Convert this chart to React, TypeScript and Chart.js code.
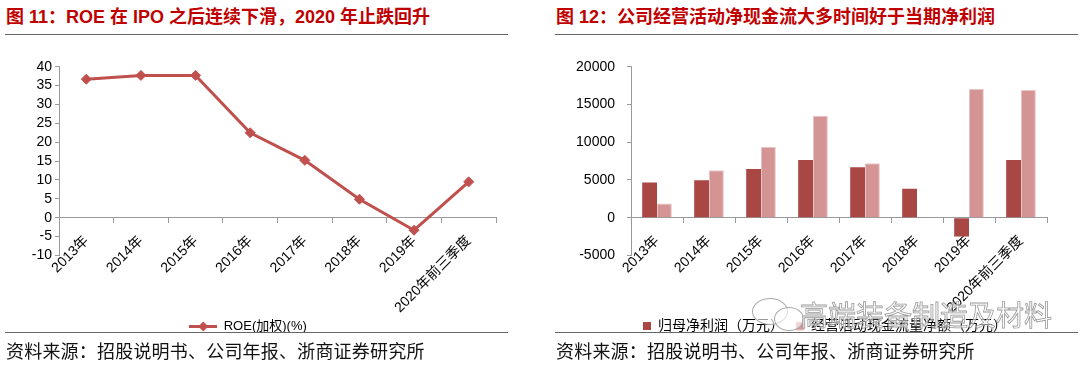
import React, { useEffect, useRef } from 'react';
import { Chart, registerables } from 'chart.js';

Chart.register(...registerables);

// ---------- data ----------
const categories = ['2013年', '2014年', '2015年', '2016年', '2017年', '2018年', '2019年', '2020年前三季度'];
const roeValues = [36.7, 37.7, 37.7, 22.5, 15.2, 4.9, -3.3, 9.5];
const netProfit = [4650, 4950, 6450, 7650, 6700, 3850, -2500, 7650];
const operatingCashFlow = [1900, 6300, 9400, 13500, 7200, 50, 17050, 16900];

const roeLabel = 'ROE(加权)(%)';
const netProfitLabel = '归母净利润（万元）';
const cashFlowLabel = '经营活动现金流量净额（万元）';

const leftTitle = '图 11：ROE 在 IPO 之后连续下滑，2020 年止跌回升';
const rightTitle = '图 12：公司经营活动净现金流大多时间好于当期净利润';
const sourceText = '资料来源：招股说明书、公司年报、浙商证券研究所';
const watermarkText = '高端装备制造及材料';

// ---------- styles ----------
const FONT_FAMILY = '"Liberation Sans", Arial, "Noto Sans CJK SC", sans-serif';
const RED_LINE = '#C0504D';
const DARK_BAR = '#A94745';
const LIGHT_BAR = '#D49494';
const AXIS_COLOR = '#9A9A9A';
const TITLE_RED = '#C00000';

function makeLegendIcon(): HTMLCanvasElement {
  const c = document.createElement('canvas');
  c.width = 28;
  c.height = 11;
  const ctx = c.getContext('2d')!;
  ctx.strokeStyle = RED_LINE;
  ctx.lineWidth = 3;
  ctx.beginPath();
  ctx.moveTo(0, 5.5);
  ctx.lineTo(28, 5.5);
  ctx.stroke();
  ctx.fillStyle = RED_LINE;
  ctx.beginPath();
  ctx.moveTo(14, 0.5);
  ctx.lineTo(19, 5.5);
  ctx.lineTo(14, 10.5);
  ctx.lineTo(9, 5.5);
  ctx.closePath();
  ctx.fill();
  return c;
}

function LeftChart() {
  const ref = useRef<HTMLCanvasElement | null>(null);
  useEffect(() => {
    if (!ref.current) return;
    const icon = makeLegendIcon();
    const chart = new Chart(ref.current, {
      type: 'line',
      data: {
        labels: categories,
        datasets: [
          {
            label: roeLabel,
            data: roeValues,
            borderColor: RED_LINE,
            backgroundColor: RED_LINE,
            borderWidth: 3,
            pointStyle: 'rectRot',
            pointRadius: 5,
            pointBorderWidth: 1,
            pointBackgroundColor: RED_LINE,
            pointBorderColor: RED_LINE,
            tension: 0,
          },
        ],
      },
      options: {
        responsive: false,
        animation: false,
        devicePixelRatio: 1,
        layout: { padding: { left: 0, right: 44, top: 26.7, bottom: 0 } },
        scales: {
          x: {
            type: 'category',
            offset: true,
            position: { y: 0 } as any,
            grid: { drawOnChartArea: false, offset: true, tickLength: 5, color: AXIS_COLOR },
            border: { color: AXIS_COLOR, width: 1 },
            ticks: {
              minRotation: 45,
              maxRotation: 45,
              autoSkip: false,
              padding: 10,
              color: '#000',
              font: { family: FONT_FAMILY, size: 14 },
            },
          },
          y: {
            min: -10,
            max: 40,
            ticks: {
              stepSize: 5,
              autoSkip: false,
              padding: 3,
              color: '#000',
              font: { family: FONT_FAMILY, size: 14 },
            },
            grid: { drawOnChartArea: false, tickLength: 4, color: AXIS_COLOR },
            border: { color: AXIS_COLOR, width: 1 },
            afterFit: (s: any) => {
              s.width = 59;
            },
          },
        },
        plugins: {
          tooltip: { enabled: false },
          legend: {
            position: 'bottom',
            title: { display: true, text: '', font: { size: 10 }, padding: { top: 46.5, bottom: 0 } },
            labels: {
              usePointStyle: true,
              pointStyleWidth: 28,
              padding: 6,
              color: '#000',
              font: { family: FONT_FAMILY, size: 13 },
              generateLabels: (c: any) =>
                (Chart.defaults.plugins.legend.labels.generateLabels as any)(c).map((l: any) => ({
                  ...l,
                  pointStyle: icon,
                })),
            },
          },
        },
      },
    });
    return () => chart.destroy();
  }, []);
  return (
    <canvas
      ref={ref}
      width={540}
      height={303}
      style={{ position: 'absolute', left: 0, top: 40, width: 540, height: 303 }}
    />
  );
}

function RightChart() {
  const ref = useRef<HTMLCanvasElement | null>(null);
  useEffect(() => {
    if (!ref.current) return;
    const chart = new Chart(ref.current, {
      type: 'bar',
      data: {
        labels: categories,
        datasets: [
          {
            label: netProfitLabel,
            data: netProfit,
            backgroundColor: DARK_BAR,
            borderColor: DARK_BAR,
            borderWidth: 0,
            categoryPercentage: 0.57,
            barPercentage: 1,
          },
          {
            label: cashFlowLabel,
            data: operatingCashFlow,
            backgroundColor: LIGHT_BAR,
            borderColor: '#E9C4C4',
            borderWidth: 1,
            categoryPercentage: 0.57,
            barPercentage: 1,
          },
        ],
      },
      options: {
        responsive: false,
        animation: false,
        devicePixelRatio: 1,
        layout: { padding: { left: 0, right: 33, top: 26.7, bottom: 0 } },
        scales: {
          x: {
            type: 'category',
            offset: true,
            position: { y: 0 } as any,
            grid: { drawOnChartArea: false, offset: true, tickLength: 5, color: AXIS_COLOR },
            border: { color: AXIS_COLOR, width: 1 },
            ticks: {
              minRotation: 45,
              maxRotation: 45,
              autoSkip: false,
              padding: 10,
              color: '#000',
              font: { family: FONT_FAMILY, size: 14 },
            },
          },
          y: {
            min: -5000,
            max: 20000,
            ticks: {
              stepSize: 5000,
              autoSkip: false,
              padding: 12,
              color: '#000',
              font: { family: FONT_FAMILY, size: 14 },
              callback: (v: any) => String(v),
            },
            grid: { drawOnChartArea: false, tickLength: 4, color: AXIS_COLOR },
            border: { color: AXIS_COLOR, width: 1 },
            afterFit: (s: any) => {
              s.width = 91;
            },
          },
        },
        plugins: {
          tooltip: { enabled: false },
          legend: {
            position: 'bottom',
            align: 'start',
            fullSize: false,
            title: { display: true, text: '', font: { size: 10 }, padding: { top: 39.5, bottom: 0 } },
            labels: {
              boxWidth: 8,
              boxHeight: 8,
              padding: 12,
              color: '#000',
              font: { family: FONT_FAMILY, size: 14 },
            },
          },
        },
      },
    });
    return () => chart.destroy();
  }, []);
  return (
    <canvas
      ref={ref}
      width={540}
      height={303}
      style={{ position: 'absolute', left: 540, top: 40, width: 540, height: 303 }}
    />
  );
}

const titleStyle: React.CSSProperties = {
  position: 'absolute',
  top: 6,
  fontFamily: FONT_FAMILY,
  fontWeight: 'bold',
  fontSize: 18,
  lineHeight: '22px',
  color: TITLE_RED,
  whiteSpace: 'nowrap',
};

const sourceStyle: React.CSSProperties = {
  position: 'absolute',
  top: 339,
  fontFamily: '"Noto Sans CJK SC", sans-serif',
  fontSize: 18,
  letterSpacing: 0.2,
  lineHeight: '22px',
  color: '#111',
  whiteSpace: 'nowrap',
};

function hr(left: number, top: number, width: number, thickness: number): React.CSSProperties {
  return { position: 'absolute', left, top, width, height: 0, borderTop: `${thickness}px solid #666` };
}

export default function App() {
  return (
    <div
      style={{
        position: 'fixed',
        left: 0,
        top: 0,
        width: 1080,
        height: 366,
        background: '#fff',
        overflow: 'hidden',
      }}
    >
      <div style={{ ...titleStyle, left: 6 }}>{leftTitle}</div>
      <div style={{ ...titleStyle, left: 556 }}>{rightTitle}</div>
      <div style={hr(5, 34, 503, 1.5)} />
      <div style={hr(555, 34, 523, 1.5)} />
      <LeftChart />
      <RightChart />
      <div style={hr(5, 332, 503, 1)} />
      <div style={hr(555, 332, 523, 1)} />
      <div style={{ ...sourceStyle, left: 6 }}>{sourceText}</div>
      <div style={{ ...sourceStyle, left: 556 }}>{sourceText}</div>
      {/* watermark */}
      <div
        style={{
          position: 'absolute',
          left: 752,
          top: 298,
          width: 34,
          height: 25,
          borderRadius: '50%',
          border: '1px solid #aaa',
          background: 'rgba(255,255,255,0.6)',
        }}
      />
      <div
        style={{
          position: 'absolute',
          left: 774,
          top: 307,
          width: 28,
          height: 22,
          borderRadius: '50%',
          border: '1px solid #aaa',
          background: 'rgba(255,255,255,0.6)',
        }}
      />
      <div
        style={{
          position: 'absolute',
          left: 800,
          top: 296,
          fontFamily: '"Noto Sans CJK SC", sans-serif',
          fontSize: 28,
          lineHeight: '36px',
          color: 'rgba(255,255,255,0.55)',
          WebkitTextStroke: '0.8px #9a9a9a',
          whiteSpace: 'nowrap',
        } as React.CSSProperties}
      >
        {watermarkText}
      </div>
    </div>
  );
}
